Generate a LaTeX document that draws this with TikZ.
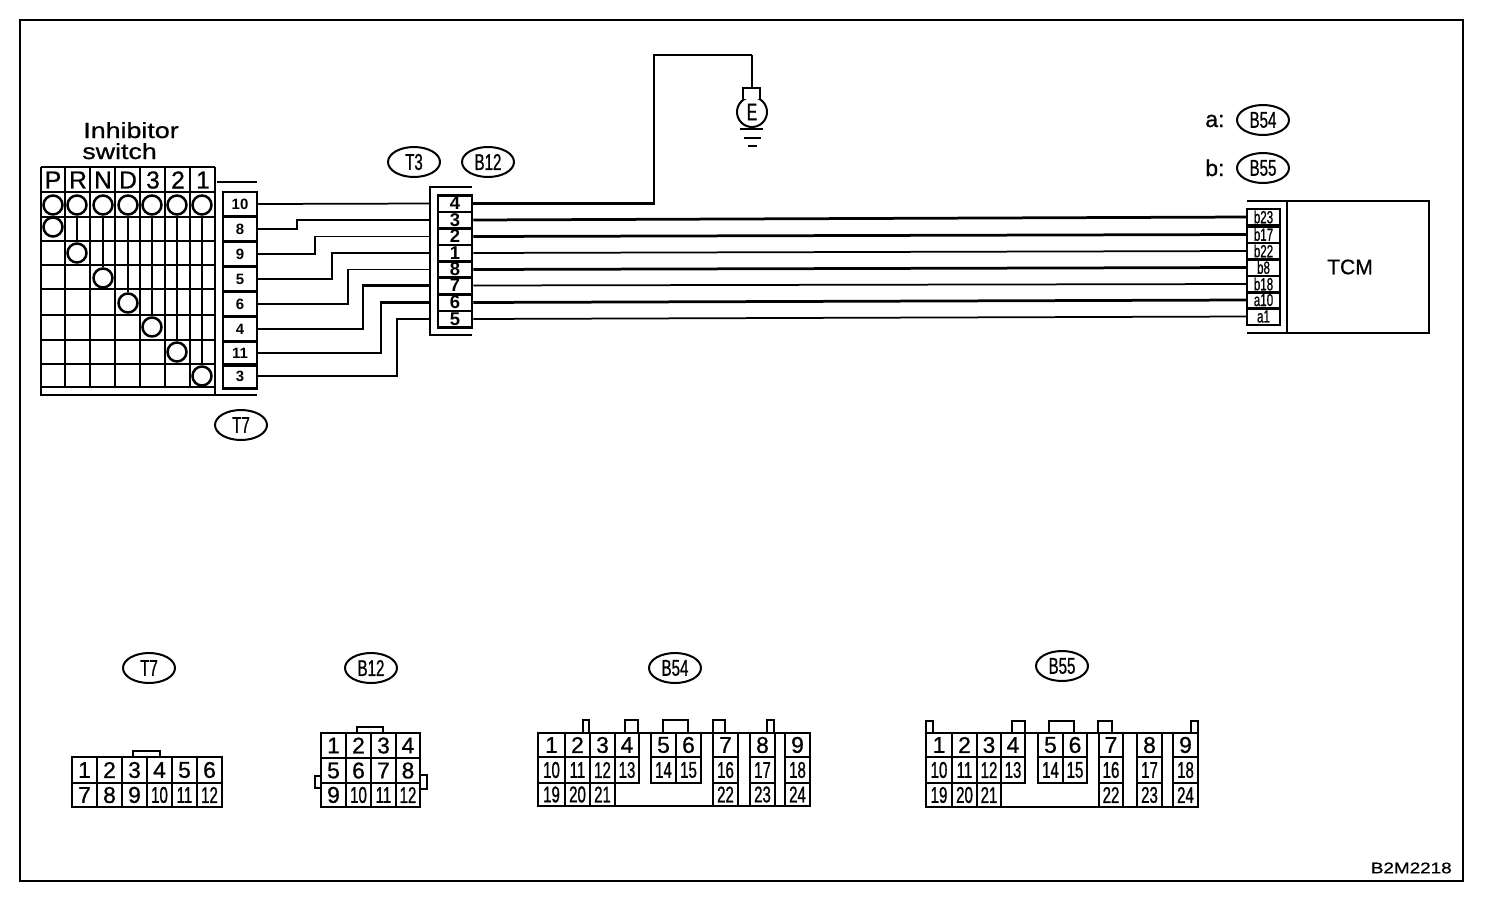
\documentclass[tikz,border=0pt]{standalone}
\usepackage{fontspec}
\setmainfont{Liberation Sans}
\newfontfamily\narrowfont[FakeStretch=0.66,FakeBold=0.8]{Liberation Sans}
\newfontfamily\wideletter[FakeStretch=1.22,FakeBold=0.8]{Liberation Sans}
\newfontfamily\cellfont[FakeBold=0.8]{Liberation Sans}
\usetikzlibrary{calc,shapes.geometric}
\tikzset{
	boxline/.style={line width=0.5mm},
	thinwire/.style={line width=0.35mm},
	thickwire/.style={line width=0.55mm},
	tag/.style={draw, ellipse, line width=0.4mm, minimum width=1.04cm, minimum height=0.6cm, inner sep=0pt, font=\narrowfont\fontsize{13}{13}\selectfont},
	plain/.style={inner sep=0pt, font=\cellfont\fontsize{13}{13}\selectfont},
	posmark/.style={draw, circle, fill=white, line width=0.5mm, minimum size=0.38cm, inner sep=0pt},
	head/.style={inner sep=0pt, font=\cellfont\fontsize{14}{14}\selectfont},
	swpin/.style={draw, line width=0.5mm, minimum width=0.68cm, minimum height=0.49cm, inner sep=0pt, font=\bfseries\fontsize{8.5}{9}\selectfont},
	midpin/.style={draw, line width=0.5mm, minimum width=0.68cm, minimum height=0.33cm, inner sep=0pt, font=\bfseries\fontsize{10.5}{9}\selectfont},
	tcmpin/.style={draw, line width=0.5mm, minimum width=0.66cm, minimum height=0.33cm, inner sep=0pt, font=\narrowfont\fontsize{10}{9}\selectfont},
	cellnum/.style={inner sep=0pt, font=\cellfont\fontsize{13}{13}\selectfont},
}
% one row of connector cells: name, top, bottom, {left/right/number,...}
\def\pinrow#1#2#3#4{\foreach \xa/\xb/\num in {#4} {
	\draw[boxline] (\xa,#2) rectangle (\xb,#3);
	\node[cellnum] (#1\num) at ({(\xa+\xb)/2},{(#2+#3)/2}) {\ifnum\num>9 \narrowfont\fi\num};
}}

\begin{document}
\begin{tikzpicture}[x=0.02cm, y=-0.02cm]
		%%%%% START %%%%%
		\useasboundingbox (0, 0) rectangle (1504, 900);
		\draw[line width=0.4mm] (20, 20) rectangle (1463, 881);
		
		% inhibitor switch
		\node[plain, anchor=base west, font=\wideletter\fontsize{12.5}{13}\selectfont] (inhibitor) at (83, 138) {Inhibitor};
		\node[plain, anchor=base west, font=\wideletter\fontsize{12.5}{13}\selectfont] (switch) at (82, 159) {switch};
		
		\foreach \x in {41, 65, 90, 115, 140, 165, 190, 215} {
			\draw[boxline] (\x, 167) -- (\x, 387);
		}
		\foreach \y in {167, 192, 217, 241, 265, 289, 315, 340, 364, 387} {
			\draw[boxline] (41, \y) -- (215, \y);
		}
		\draw[boxline] (41, 387) -- (41, 395) -- (215, 395) -- (215, 387);
		
		\foreach \x/\name in {53/P, 78/R, 103/N, 128/D, 153/3, 178/2, 203/1} {
			\node[head] (head\name) at (\x, 180) {\name};
		}
		
		\foreach \x/\name/\ylow in {53/P/227, 77/R/253, 103/N/278, 128/D/303, 152/3/327, 177/2/352, 202/1/376} {
			\node[posmark] (top\name) at (\x, 205) {};
			\node[posmark] (low\name) at (\x, \ylow) {};
			\draw[thickwire] (top\name) -- (low\name);
		}
		
		% T7 connector
		\draw[boxline] (217, 182) -- (257, 182);
		\draw[thinwire] (215, 395) -- (257, 395);
		\foreach \y/\num in {204/10, 229/8, 254/9, 279/5, 304/6, 329/4, 353/11, 376/3} {
			\node[swpin] (sw\num) at (240, \y) {\num};
		}
		\node[tag] (tagTs) at (241, 425) {T7};
		
		% joint connector
		\draw[boxline] (472, 187) -- (430, 187) -- (430, 335) -- (472, 335);
		\foreach \y/\num in {203.5/4, 220/3, 236.5/2, 253/1, 269.5/8, 285.5/7, 302.5/6, 319/5} {
			\node[midpin] (mid\num) at (455, \y) {\num};
		}
		\node[tag] (tagTt) at (414, 162) {T3};
		\node[tag] (tagBa) at (488, 162) {B12};
		
		% wires into the joint connector
		\draw[thinwire] (sw10.east) -- ([xshift=-0.16cm]mid4.west);
		\foreach \num/\pin/\x/\kind in {8/3/297/thinwire, 9/2/315/thinwire, 5/1/332/thickwire, 6/8/348/thinwire, 4/7/363/thickwire, 11/6/381/thickwire, 3/5/397/thickwire} {
			\coordinate (bend\num) at (\x, 0);
			\draw[\kind] (sw\num.east) -- (bend\num |- sw\num.east) -- (bend\num |- mid\pin.west) -- ([xshift=-0.16cm]mid\pin.west);
		}
		
		% ground
		\node[draw, circle, line width=0.4mm, minimum size=0.6cm, inner sep=0pt, font=\narrowfont\fontsize{13.5}{13}\selectfont] (earth) at (752, 112) {E};
		\draw[boxline, fill=white] (743, 99) -- (743, 88) -- (760, 88) -- (760, 99);
		\coordinate (earthcap) at (752, 88);
		\coordinate (earthup) at (752, 55);
		\coordinate (earthleft) at (654, 55);
		\draw[thickwire] (mid4.east) -- (earthleft |- mid4.east) -- (earthleft) -- (earthup);
		\draw[thinwire] (earthup) -- (earthcap);
		\draw[line width=0.5mm] (740, 129) -- (763, 129);
		\draw[line width=0.35mm] (744, 138) -- (761, 138);
		\draw[line width=0.35mm] (748, 146) -- (757, 146);
		
		% TCM
		\draw[boxline] (1247, 201) -- (1429, 201) -- (1429, 333) -- (1247, 333);
		\draw[boxline] (1287, 201) -- (1287, 333);
		\node[plain, font=\cellfont\fontsize{12}{12}\selectfont] (tcm) at (1350, 267) {TCM};
		\foreach \y/\name in {217/b23, 234.5/b17, 251/b22, 267.5/b8, 284/b18, 300/a10, 316.5/a1} {
			\node[tcmpin] (\name) at (1263.5, \y) {\name};
		}
		\foreach \pin/\name/\kind in {3/b23/thickwire, 2/b17/thickwire, 1/b22/thinwire, 8/b8/thickwire, 7/b18/thinwire, 6/a10/thickwire, 5/a1/thinwire} {
			\draw[\kind] (mid\pin.east) -- (\name.west);
		}
		\node[plain, anchor=base west] (labela) at (1205, 127) {a:};
		\node[plain, anchor=base west] (labelb) at (1205, 176) {b:};
		\node[tag] (tagBc) at (1263, 120) {B54};
		\node[tag] (tagBd) at (1263, 168) {B55};
		
		% lower connectors
		\node[tag] (tagTl) at (149, 668) {T7};
		\draw[boxline] (133, 757) -- (133, 751) -- (160, 751) -- (160, 757);
		\pinrow{ts}{757}{783}{72/97/1, 97/122/2, 122/147/3, 147/172/4, 172/197/5, 197/222/6}
		\pinrow{ts}{783}{807}{72/97/7, 97/122/8, 122/147/9, 147/172/10, 172/197/11, 197/222/12}
		
		\node[tag] (tagBl) at (371, 668) {B12};
		\draw[boxline] (357, 733) -- (357, 727) -- (383, 727) -- (383, 733);
		\draw[boxline] (321, 776) -- (315, 776) -- (315, 788) -- (321, 788);
		\draw[boxline] (420, 775) -- (427, 775) -- (427, 789) -- (420, 789);
		\pinrow{ba}{733}{758}{321/346/1, 346/371/2, 371/396/3, 396/420/4}
		\pinrow{ba}{758}{783}{321/346/5, 346/371/6, 371/396/7, 396/420/8}
		\pinrow{ba}{783}{807}{321/346/9, 346/371/10, 371/396/11, 396/420/12}
		
		\node[tag] (tagBm) at (675, 668) {B54};
		\foreach \xa/\xb in {583/589, 625/638, 663/688, 713/725, 767/774} {
			\draw[boxline] (\xa, 733) -- (\xa, 720) -- (\xb, 720) -- (\xb, 733);
		}
		\draw[boxline] (538, 733) -- (810, 733);
		\draw[boxline] (538, 806) -- (810, 806);
		\pinrow{bc}{733}{757}{538/565/1, 565/590/2, 590/615/3, 615/639/4, 651/676/5, 676/701/6, 713/738/7, 750/775/8, 785/810/9}
		\pinrow{bc}{757}{783}{538/565/10, 565/590/11, 590/615/12, 615/639/13, 651/676/14, 676/701/15, 713/738/16, 750/775/17, 785/810/18}
		\pinrow{bc}{783}{806}{538/565/19, 565/590/20, 590/615/21, 713/738/22, 750/775/23, 785/810/24}
		
		\node[tag] (tagBn) at (1062, 666) {B55};
		\foreach \xa/\xb in {926/933, 1012/1025, 1049/1074, 1098/1112, 1191/1198} {
			\draw[boxline] (\xa, 733) -- (\xa, 721) -- (\xb, 721) -- (\xb, 733);
		}
		\draw[boxline] (926, 733) -- (1198, 733);
		\draw[boxline] (926, 807) -- (1198, 807);
		\pinrow{bd}{733}{757}{926/952/1, 952/977/2, 977/1001/3, 1001/1025/4, 1038/1063/5, 1063/1087/6, 1099/1123/7, 1137/1162/8, 1173/1198/9}
		\pinrow{bd}{757}{783}{926/952/10, 952/977/11, 977/1001/12, 1001/1025/13, 1038/1063/14, 1063/1087/15, 1099/1123/16, 1137/1162/17, 1173/1198/18}
		\pinrow{bd}{783}{807}{926/952/19, 952/977/20, 977/1001/21, 1099/1123/22, 1137/1162/23, 1173/1198/24}
		
		\node[plain, anchor=east, font=\wideletter\fontsize{8.8}{9}\selectfont] (code) at (1452, 868) {B2M2218};
		%%%%% END %%%%%
\end{tikzpicture}
\end{document}
